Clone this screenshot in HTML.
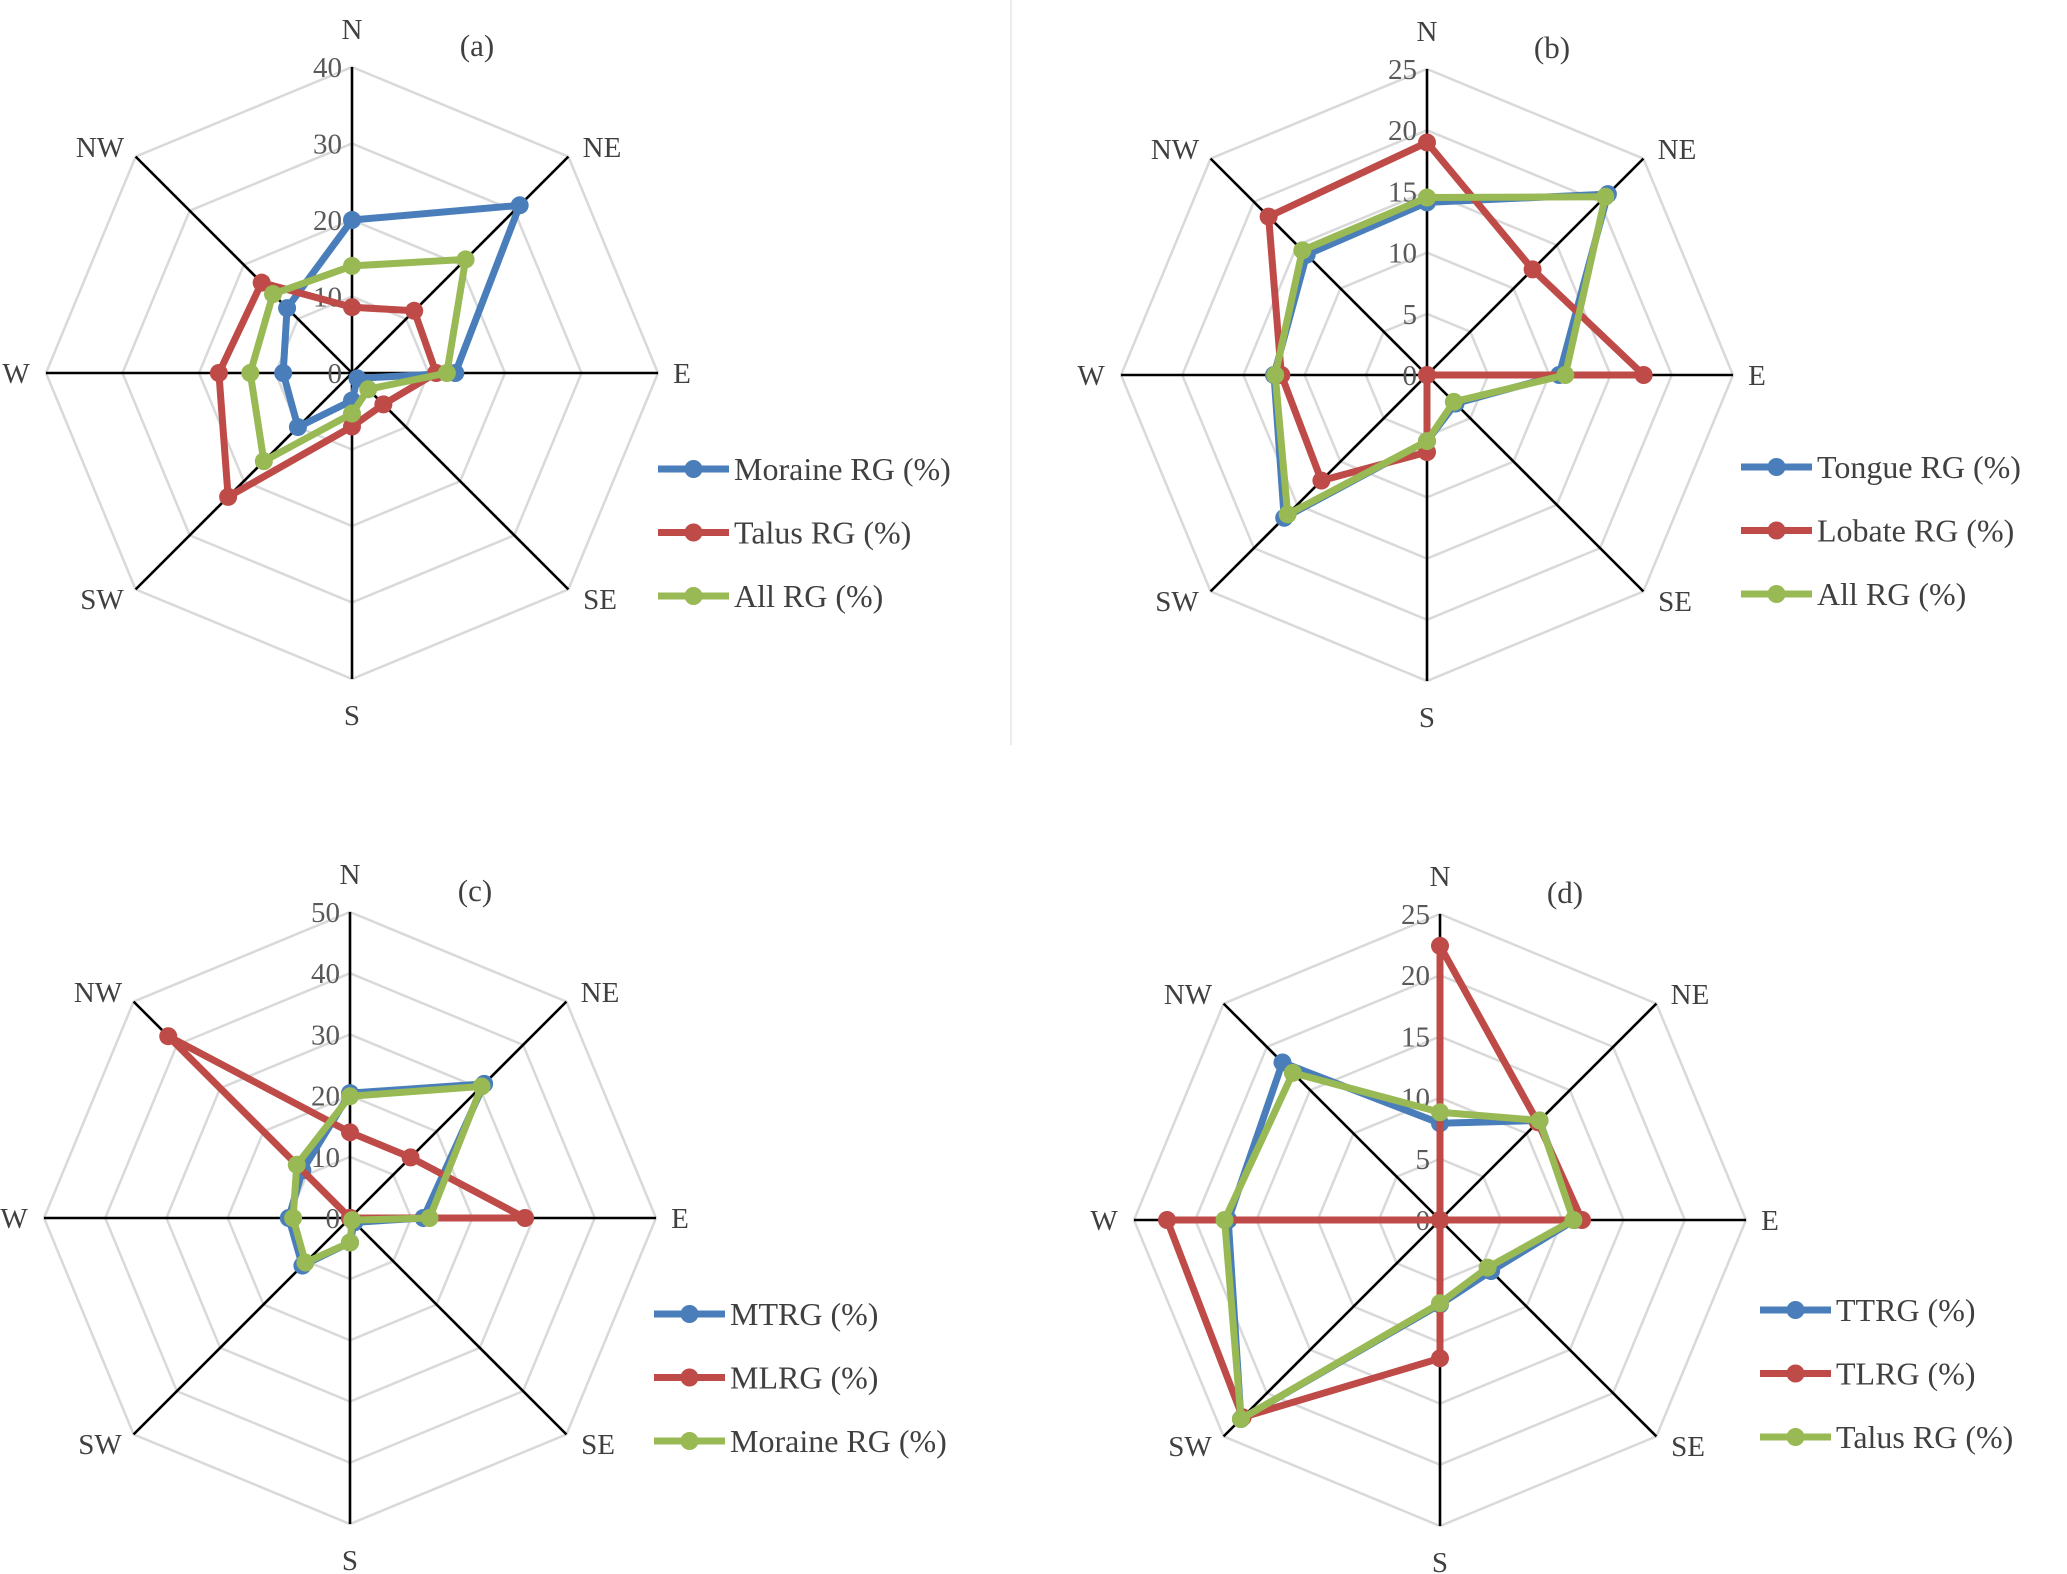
<!DOCTYPE html>
<html><head><meta charset="utf-8">
<style>
html,body{margin:0;padding:0;background:#fff;}
svg{display:block;}
text{font-family:"Liberation Serif",serif;}
</style></head>
<body>
<svg id="chart" width="2067" height="1574" viewBox="0 0 2067 1574" xmlns="http://www.w3.org/2000/svg">
<line x1="1011" y1="0" x2="1011" y2="745" stroke="#e6e6e6" stroke-width="1.5"/>
</svg>
<script>
const directions = ["N","NE","E","SE","S","SW","W","NW"];
const panelTitles = ["(a)","(b)","(c)","(d)"];
const panelMax = [40,25,50,25];
const panelStep = [10,5,10,5];
const seriesNamesA = ["Moraine RG (%)","Talus RG (%)","All RG (%)"];
const seriesNamesB = ["Tongue RG (%)","Lobate RG (%)","All RG (%)"];
const seriesNamesC = ["MTRG (%)","MLRG (%)","Moraine RG (%)"];
const seriesNamesD = ["TTRG (%)","TLRG (%)","Talus RG (%)"];
// values ordered N, NE, E, SE, S, SW, W, NW
const a_moraine = [20,31,13.5,1,3.6,10,9,12];
const a_talus   = [8.6,11.5,11,5.8,7,22.9,17.4,16.7];
const a_all     = [14,21,12.4,3,5.3,16.3,13.3,14.6];
const b_tongue  = [14.1,20.9,10.8,3.3,5.4,16.5,12.5,13.9];
const b_lobate  = [19,12.2,17.7,0,6.3,12.2,11.9,18.3];
const b_all     = [14.5,20.6,11.3,3.1,5.4,16.1,12.4,14.4];
const c_mtrg    = [20.4,31,12,1,4,11,10,11];
const c_mlrg    = [14,14,28.6,0,0,0,0,42];
const c_moraine = [19.9,30.4,13,0.5,4,10.3,9.3,12.3];
const d_ttrg    = [7.9,11.5,11,5.9,6.9,23,17.3,18.2];
const d_tlrg    = [22.4,11.3,11.6,0,11.3,22.8,22.3,0];
const d_talus   = [8.8,11.5,10.9,5.5,6.8,23,17.6,17];

const colors = ["#4a7ebb","#be4b48","#98b954"];
const NS = "http://www.w3.org/2000/svg";
const svg = document.getElementById("chart");
function mk(tag, attrs, parent){
  const e = document.createElementNS(NS, tag);
  for (const k in attrs) e.setAttribute(k, attrs[k]);
  (parent||svg).appendChild(e);
  return e;
}
const R = 306;
const panels = [
  {cx:352, cy:373, series:[a_moraine,a_talus,a_all], names:seriesNamesA, lx:306, ly:96},
  {cx:1427, cy:375, series:[b_tongue,b_lobate,b_all], names:seriesNamesB, lx:314, ly:92},
  {cx:350, cy:1218, series:[c_mtrg,c_mlrg,c_moraine], names:seriesNamesC, lx:304, ly:96},
  {cx:1440, cy:1220, series:[d_ttrg,d_tlrg,d_talus], names:seriesNamesD, lx:320, ly:90}
];
const labelOff = [[0,-344],[250,-226],[330,0],[248,226],[0,342],[-250,226],[-336,0],[-252,-226]];

panels.forEach((p, pi) => {
  const g = mk("g", {});
  
  
  const max = panelMax[pi], step = panelStep[pi];
  const rad = v => v / max * R;
  const pt = (i, v) => {
    const ang = -Math.PI/2 + i * Math.PI/4;
    return [p.cx + rad(v)*Math.cos(ang), p.cy + rad(v)*Math.sin(ang)];
  };
  for (let v = step; v <= max + 1e-9; v += step) {
    const pts = directions.map((d,i)=>pt(i,v).join(",")).join(" ");
    const ring = mk("polygon", {points:pts, fill:"none", stroke:"#d9d9d9", "stroke-width":2.5}, g);
    
    
  }
  directions.forEach((d,i)=>{
    const e = pt(i,max);
    const ax = mk("line", {x1:p.cx, y1:p.cy, x2:e[0], y2:e[1], stroke:"#000", "stroke-width":2.6}, g);
    
    
    const t = mk("text", {x:p.cx+labelOff[i][0], y:p.cy+labelOff[i][1]+10, "font-size":29, fill:"#404040", "text-anchor":"middle"}, g);
    t.textContent = d;
    
    
  });
  for (let v = 0; v <= max + 1e-9; v += step) {
    const t = mk("text", {x:p.cx-10, y:p.cy-rad(v)+10, "font-size":29, fill:"#595959", "text-anchor":"end"}, g);
    t.textContent = String(v);
    
    
  }
  const tt = mk("text", {x:p.cx+125, y:p.cy-317, "font-size":31, fill:"#404040", "text-anchor":"middle"}, g);
  tt.textContent = panelTitles[pi];
  
  
  p.series.forEach((vals, si)=>{
    const sg = mk("g", {}, g);
    
    
    const pts = vals.map((v,i)=>pt(i,v).join(",")).join(" ");
    const poly = mk("polygon", {points:pts, fill:"none", stroke:colors[si], "stroke-width":7, "stroke-linejoin":"round"}, sg);
    
    
    vals.forEach((v,i)=>{
      const c = pt(i,v);
      const m = mk("circle", {cx:c[0], cy:c[1], r:9, fill:colors[si]}, sg);
      
      
    });
    const lx = p.cx + p.lx, ly = p.cy + p.ly + si*63.5;
    const lg = mk("g", {}, g);
    
    
    mk("line", {x1:lx, y1:ly, x2:lx+71, y2:ly, stroke:colors[si], "stroke-width":7}, lg);
    mk("circle", {cx:lx+35.5, cy:ly, r:9, fill:colors[si]}, lg);
    const lt = mk("text", {x:lx+76, y:ly+11, "font-size":32, fill:"#404040"}, lg);
    lt.textContent = p.names[si];
  });
});
</script>
</body></html>
